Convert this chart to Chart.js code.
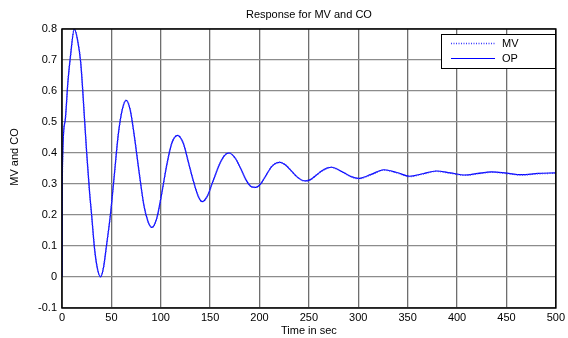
<!DOCTYPE html>
<html>
<head>
<meta charset="utf-8">
<script src="https://cdn.jsdelivr.net/npm/chart.js@4.4.0/dist/chart.umd.min.js"></script>
<style>
  html, body { margin: 0; padding: 0; background: #fff; }
</style>
</head>
<body>
<canvas id="chart" width="568" height="338"></canvas>
<script>
// ----- data -----
const timeSec = [0, 0.3, 3, 6, 8.5, 12.5, 16, 19, 23, 25, 28, 30, 33, 36, 39, 42, 45, 49, 53, 57, 61, 65,
  69, 73, 78, 83, 87, 91, 96, 101, 106, 111, 117,
  123, 128, 133, 138, 142, 147, 153, 159, 164, 169, 175, 181, 186, 191, 196, 201, 207, 212, 217, 221, 226, 232, 238, 243, 247,
  252, 258, 264, 269, 273, 278, 285, 292, 300, 313, 326, 339, 352, 365, 379, 393, 408, 421, 435, 450, 465, 482, 500];
const opValues = [0, 0.33, 0.5, 0.63, 0.71, 0.80, 0.76, 0.69, 0.5, 0.4, 0.27, 0.2, 0.09, 0.025, 0.0, 0.03, 0.1, 0.2, 0.33, 0.46, 0.54, 0.57,
  0.54, 0.46, 0.34, 0.23, 0.18, 0.16, 0.19, 0.27, 0.36, 0.43, 0.457,
  0.43, 0.37, 0.31, 0.26, 0.243, 0.26, 0.31, 0.36, 0.39, 0.40, 0.385, 0.35, 0.315, 0.293, 0.289, 0.3, 0.33, 0.355, 0.368, 0.37, 0.362, 0.343, 0.323, 0.312, 0.31,
  0.315, 0.33, 0.344, 0.352, 0.354, 0.349, 0.337, 0.325, 0.318, 0.331, 0.346, 0.337, 0.325, 0.333, 0.342, 0.336, 0.329, 0.334, 0.339, 0.335, 0.330, 0.334, 0.336];
const mvValues = [0, 0.33, 0.5, 0.63, 0.71, 0.80, 0.76, 0.69, 0.5, 0.4, 0.27, 0.2, 0.09, 0.025, 0.0, 0.03, 0.1, 0.2, 0.33, 0.46, 0.54, 0.57,
  0.54, 0.46, 0.34, 0.23, 0.18, 0.16, 0.19, 0.27, 0.36, 0.43, 0.457,
  0.43, 0.37, 0.31, 0.26, 0.243, 0.26, 0.31, 0.36, 0.39, 0.40, 0.385, 0.35, 0.315, 0.293, 0.289, 0.3, 0.33, 0.355, 0.368, 0.37, 0.362, 0.343, 0.323, 0.312, 0.31,
  0.315, 0.33, 0.344, 0.352, 0.354, 0.349, 0.337, 0.325, 0.317, 0.330, 0.345, 0.336, 0.324, 0.332, 0.341, 0.335, 0.328, 0.333, 0.338, 0.334, 0.329, 0.333, 0.335];
const xTicks = [0, 50, 100, 150, 200, 250, 300, 350, 400, 450, 500];
const yTicks = [-0.1, 0, 0.1, 0.2, 0.3, 0.4, 0.5, 0.6, 0.7, 0.8];

const FONT = "'Liberation Sans', Arial, sans-serif";
Chart.defaults.font.family = FONT;
Chart.defaults.font.size = 11;
Chart.defaults.color = '#000';

// ----- texts, box and legend drawn like the matlab figure -----
const figurePlugin = {
  id: 'figure',
  afterDraw(chart) {
    const { ctx, chartArea: a } = chart;
    ctx.save();
    // axes box
    ctx.strokeStyle = '#000';
    ctx.lineWidth = 1.5;
    ctx.strokeRect(a.left, a.top, a.right - a.left, a.bottom - a.top);

    // title and axis labels
    ctx.fillStyle = '#000';
    ctx.font = '11px ' + FONT;
    ctx.textAlign = 'center';
    ctx.textBaseline = 'middle';
    ctx.fillText('Response for MV and CO', (a.left + a.right) / 2, 15);
    ctx.fillText('Time in sec', (a.left + a.right) / 2, 331);
    ctx.save();
    ctx.translate(15, 157);
    ctx.rotate(-Math.PI / 2);
    ctx.fillText('MV and CO', 0, 0);
    ctx.restore();

    // legend
    const lx = 441.5, ly = 34.5, lw = 114, lh = 34;
    ctx.fillStyle = '#fff';
    ctx.fillRect(lx, ly, lw, lh);
    ctx.lineWidth = 1;
    ctx.strokeRect(lx, ly, lw, lh);
    chart.data.datasets.forEach((ds, i) => {
      const y = 43.5 + i * 15;
      ctx.strokeStyle = ds.borderColor;
      ctx.lineWidth = ds.borderWidth;
      ctx.setLineDash(ds.borderDash || []);
      ctx.beginPath();
      ctx.moveTo(451, y);
      ctx.lineTo(495, y);
      ctx.stroke();
      ctx.setLineDash([]);
      ctx.fillStyle = '#000';
      ctx.textAlign = 'left';
      ctx.fillText(ds.label, 502, y + 0.5);
    });
    ctx.restore();
  }
};

new Chart(document.getElementById('chart'), {
  type: 'line',
  data: {
    datasets: [
      {
        label: 'MV',
        data: timeSec.map((t, i) => ({ x: t, y: mvValues[i] })),
        borderColor: '#3b3bff',
        borderWidth: 1.5,
        borderDash: [1, 1.5],
        pointRadius: 0,
        cubicInterpolationMode: 'monotone'
      },
      {
        label: 'OP',
        data: timeSec.map((t, i) => ({ x: t, y: opValues[i] })),
        borderColor: '#0000ff',
        borderWidth: 1.2,
        pointRadius: 0,
        cubicInterpolationMode: 'monotone'
      }
    ]
  },
  options: {
    responsive: false,
    animation: false,
    layout: { padding: { top: 29, right: 12, left: 0, bottom: 0 } },
    plugins: { legend: { display: false }, title: { display: false }, tooltip: { enabled: false } },
    scales: {
      x: {
        type: 'linear',
        min: 0, max: 500,
        afterBuildTicks: s => { s.ticks = xTicks.map(v => ({ value: v })); },
        afterFit: s => { s.height = 30; },
        grid: { color: '#6e6e6e', lineWidth: 1.3, drawTicks: false },
        border: { display: false },
        ticks: { padding: 3, maxRotation: 0, callback: v => String(v) }
      },
      y: {
        type: 'linear',
        min: -0.1, max: 0.8,
        afterBuildTicks: s => { s.ticks = yTicks.map(v => ({ value: v })); },
        afterFit: s => { s.width = 62; },
        grid: { color: '#8c8c8c', lineWidth: 1.2, drawTicks: false },
        border: { display: false },
        ticks: { padding: 5, callback: v => String(Number(v.toFixed(1))) }
      }
    }
  },
  plugins: [figurePlugin]
});
</script>
</body>
</html>
